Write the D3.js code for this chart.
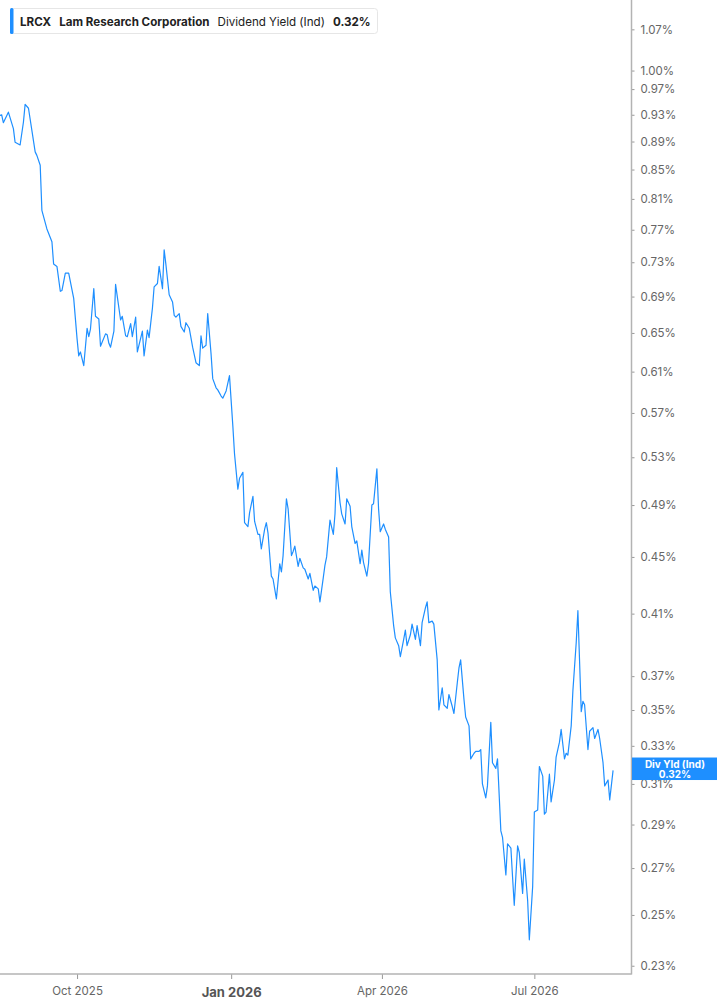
<!DOCTYPE html>
<html>
<head>
<meta charset="utf-8">
<script src="https://cdn.jsdelivr.net/npm/d3@7"></script>
<style>
  body { margin: 0; background: #fff; }
  svg { display: block; font-family: Inter, "Noto Sans", sans-serif; }
</style>
</head>
<body>
<svg id="chart" width="717" height="1005"></svg>
<script>
// dividend yield (%), one entry per date
var dates = [
  "2025-08-16","2025-08-17","2025-08-18","2025-08-21","2025-08-24","2025-08-25","2025-08-28","2025-08-30","2025-08-31",
  "2025-09-02","2025-09-06","2025-09-07","2025-09-09","2025-09-10","2025-09-13","2025-09-16","2025-09-17","2025-09-19",
  "2025-09-21","2025-09-22","2025-09-24","2025-09-26","2025-09-29",
  "2025-10-01","2025-10-02","2025-10-03","2025-10-05","2025-10-07","2025-10-08","2025-10-09","2025-10-11","2025-10-12",
  "2025-10-14","2025-10-15","2025-10-18","2025-10-19","2025-10-20","2025-10-21","2025-10-23","2025-10-24","2025-10-27",
  "2025-10-28","2025-10-30","2025-10-31",
  "2025-11-02","2025-11-03","2025-11-05","2025-11-06","2025-11-09","2025-11-10","2025-11-12","2025-11-13","2025-11-15",
  "2025-11-16","2025-11-18","2025-11-19","2025-11-21","2025-11-22","2025-11-23","2025-11-25","2025-11-27","2025-11-28",
  "2025-11-29",
  "2025-12-01","2025-12-02","2025-12-04","2025-12-05","2025-12-07","2025-12-09","2025-12-11","2025-12-13","2025-12-14",
  "2025-12-15","2025-12-17","2025-12-18","2025-12-20","2025-12-21","2025-12-23","2025-12-24","2025-12-26","2025-12-27",
  "2025-12-29","2025-12-31",
  "2026-01-02","2026-01-03","2026-01-05","2026-01-06","2026-01-08","2026-01-09","2026-01-11","2026-01-12","2026-01-14",
  "2026-01-15","2026-01-17","2026-01-18","2026-01-19","2026-01-21","2026-01-22","2026-01-23","2026-01-25","2026-01-26",
  "2026-01-28","2026-01-30","2026-01-31",
  "2026-02-01","2026-02-03","2026-02-04","2026-02-06","2026-02-07","2026-02-08","2026-02-10","2026-02-11","2026-02-13",
  "2026-02-14","2026-02-16","2026-02-17","2026-02-19","2026-02-20","2026-02-22","2026-02-23","2026-02-25","2026-02-26",
  "2026-02-27",
  "2026-03-01","2026-03-03","2026-03-04","2026-03-05","2026-03-07","2026-03-08","2026-03-10","2026-03-11","2026-03-13",
  "2026-03-14","2026-03-16","2026-03-17","2026-03-19","2026-03-20","2026-03-21","2026-03-23","2026-03-24","2026-03-26",
  "2026-03-27","2026-03-29","2026-03-30","2026-03-31",
  "2026-04-02","2026-04-03","2026-04-05","2026-04-06","2026-04-08","2026-04-09","2026-04-11","2026-04-12","2026-04-14",
  "2026-04-15","2026-04-16","2026-04-18","2026-04-19","2026-04-21","2026-04-22","2026-04-24","2026-04-25","2026-04-27",
  "2026-04-28","2026-04-29",
  "2026-05-01","2026-05-02","2026-05-04","2026-05-05","2026-05-07","2026-05-08","2026-05-10","2026-05-11","2026-05-13",
  "2026-05-14","2026-05-16","2026-05-17","2026-05-18","2026-05-20","2026-05-21","2026-05-23","2026-05-24","2026-05-26",
  "2026-05-27","2026-05-29","2026-05-30","2026-05-31",
  "2026-06-02","2026-06-03","2026-06-05","2026-06-06","2026-06-08","2026-06-09","2026-06-11","2026-06-12","2026-06-14",
  "2026-06-15","2026-06-17","2026-06-18","2026-06-19","2026-06-21","2026-06-22","2026-06-24","2026-06-25","2026-06-27",
  "2026-06-28","2026-06-30",
  "2026-07-01","2026-07-03","2026-07-04","2026-07-06","2026-07-07","2026-07-08","2026-07-10","2026-07-11","2026-07-13",
  "2026-07-14","2026-07-16","2026-07-17","2026-07-19","2026-07-20","2026-07-21","2026-07-23","2026-07-24","2026-07-26",
  "2026-07-27","2026-07-29","2026-07-30","2026-07-31",
  "2026-08-02","2026-08-03","2026-08-05","2026-08-06","2026-08-08","2026-08-09","2026-08-11","2026-08-12","2026-08-14",
  "2026-08-15","2026-08-17"
];
var yields = [
  0.929,0.930,0.918,0.934,0.909,0.889,0.885,0.919,0.946,
  0.940,0.875,0.870,0.856,0.795,0.771,0.755,0.728,0.725,
  0.696,0.697,0.717,0.717,0.688,
  0.644,0.626,0.630,0.616,0.655,0.646,0.654,0.699,0.668,
  0.665,0.636,0.649,0.648,0.639,0.635,0.652,0.704,0.664,
  0.668,0.647,0.646,
  0.660,0.646,0.667,0.630,0.652,0.626,0.653,0.645,0.677,
  0.701,0.705,0.725,0.699,0.745,0.728,0.692,0.684,0.669,
  0.667,
  0.671,0.657,0.651,0.661,0.655,0.635,0.619,0.616,0.647,
  0.634,0.637,0.671,0.628,0.603,0.594,0.592,0.586,0.584,
  0.591,0.606,
  0.558,0.533,0.503,0.512,0.517,0.476,0.473,0.484,0.497,
  0.477,0.467,0.467,0.456,0.471,0.476,0.468,0.436,0.434,
  0.420,0.445,0.439,
  0.451,0.495,0.487,0.451,0.454,0.458,0.443,0.449,0.442,
  0.441,0.434,0.438,0.426,0.429,0.427,0.418,0.435,0.444,
  0.450,
  0.478,0.467,0.483,0.521,0.492,0.483,0.475,0.495,0.489,
  0.473,0.460,0.462,0.445,0.455,0.446,0.436,0.445,0.490,
  0.491,0.520,0.487,0.469,
  0.475,0.471,0.465,0.425,0.402,0.394,0.389,0.382,0.393,
  0.399,0.389,0.396,0.403,0.393,0.402,0.389,0.404,0.414,
  0.418,0.404,
  0.405,0.403,0.380,0.350,0.363,0.353,0.351,0.359,0.352,
  0.348,0.366,0.375,0.380,0.356,0.346,0.341,0.323,0.326,
  0.327,0.327,0.328,0.310,
  0.303,0.309,0.343,0.321,0.318,0.323,0.287,0.284,0.267,
  0.281,0.279,0.266,0.254,0.280,0.277,0.259,0.274,0.256,
  0.240,0.262,
  0.296,0.297,0.319,0.314,0.295,0.296,0.315,0.301,0.312,
  0.324,0.332,0.339,0.323,0.326,0.325,0.341,0.361,0.391,
  0.412,0.349,0.355,0.353,
  0.328,0.338,0.340,0.334,0.339,0.334,0.321,0.309,0.312,
  0.302,0.317
];
var yTicks = [0.23,0.25,0.27,0.29,0.31,0.33,0.35,0.37,0.41,0.45,0.49,0.53,0.57,0.61,0.65,0.69,0.73,0.77,0.81,0.85,0.89,0.93,0.97,1.00,1.07];
var xTicks = ["2025-10-01","2026-01-01","2026-04-01","2026-07-01"];
var xTickLabels = ["Oct 2025","Jan 2026","Apr 2026","Jul 2026"];
var ticker = "LRCX";
var company = "Lam Research Corporation";
var metric = "Dividend Yield (Ind)";
var lastValue = "0.32%";

var parse = d3.timeParse("%Y-%m-%d");
var data = dates.map(function (d, i) { return { date: parse(d), value: yields[i] }; });

var plotRight = 631.5, plotBottom = 974;
var blue = "#1e8fff";

var svg = d3.select("#chart");

var x = d3.scaleTime()
          .domain([parse("2025-08-16"), parse("2026-08-28")])
          .range([0, plotRight]);
var y = d3.scaleLog()
          .domain([0.2269, 1.1228])
          .range([plotBottom, 0]);

svg.append("clipPath").attr("id", "clip")
   .append("rect").attr("x", 0).attr("y", 0).attr("width", plotRight).attr("height", plotBottom);

var line = d3.line()
             .x(function (d) { return x(d.date); })
             .y(function (d) { return y(d.value); });

svg.append("path")
   .datum(data)
   .attr("clip-path", "url(#clip)")
   .attr("d", line)
   .attr("fill", "none")
   .attr("stroke", blue)
   .attr("stroke-width", 1.2)
   .attr("stroke-linejoin", "round");

// right axis
var yAxis = d3.axisRight(y)
              .tickValues(yTicks)
              .tickSize(3)
              .tickPadding(6)
              .tickFormat(function (d) { return d.toFixed(2) + "%"; });
var gy = svg.append("g").attr("transform", "translate(" + plotRight + ",0)").call(yAxis);
gy.select(".domain").remove();
gy.selectAll(".tick line").attr("stroke", "#999");
gy.selectAll(".tick text").attr("fill", "#666").style("font-size", "11.5px").style("font-family", "Inter, sans-serif");
svg.append("line").attr("x1", plotRight).attr("x2", plotRight).attr("y1", 0).attr("y2", plotBottom + 0.5)
   .attr("stroke", "#b3b3b3").attr("stroke-width", 1.5);

// bottom axis
var xAxis = d3.axisBottom(x)
              .tickValues(xTicks.map(parse))
              .tickSize(5)
              .tickPadding(6)
              .tickFormat(function (d, i) { return xTickLabels[i]; });
var gx = svg.append("g").attr("transform", "translate(0," + plotBottom + ")").call(xAxis);
gx.select(".domain").remove();
gx.selectAll(".tick line").attr("stroke", "#999");
gx.selectAll(".tick text").style("font-family", "Inter, sans-serif")
  .attr("dy", "0.9em")
  .style("font-weight", function (d, i) { return i === 1 ? "bold" : "normal"; })
  .style("font-size", function (d, i) { return i === 1 ? "13px" : "11.5px"; })
  .attr("fill", function (d, i) { return i === 1 ? "#555" : "#666"; });
svg.append("line").attr("x1", 0).attr("x2", plotRight).attr("y1", plotBottom).attr("y2", plotBottom)
   .attr("stroke", "#b3b3b3").attr("stroke-width", 1.5);

// last value badge, drawn over the axis labels as in the source
var lastY = y(yields[yields.length - 1]);
var badge = svg.append("g").attr("transform", "translate(" + (plotRight + 0.5) + "," + (lastY - 12.8) + ")");
badge.append("rect").attr("width", 717 - plotRight).attr("height", 22.5).attr("fill", blue);
badge.append("text").attr("x", 43).attr("y", 10.3).attr("text-anchor", "middle")
     .attr("fill", "#fff").style("font-size", "10px").style("font-weight", "bold").text("Div Yld (Ind)");
badge.append("text").attr("x", 43).attr("y", 20.6).attr("text-anchor", "middle")
     .attr("fill", "#fff").style("font-size", "10px").style("font-weight", "bold").text(lastValue);

// legend
var legend = svg.append("g").attr("transform", "translate(10,8)");
legend.append("rect").attr("x", 0.5).attr("y", 0.5).attr("width", 367).attr("height", 25).attr("rx", 3)
      .attr("fill", "#fff").attr("stroke", "#e6e6e6");
legend.append("rect").attr("x", 0).attr("y", 0).attr("width", 3.5).attr("height", 26).attr("rx", 1.5).attr("fill", blue);
var lt = legend.append("text").attr("x", 10).attr("y", 17.5).attr("fill", "#222").style("font-size", "11.6px");
lt.append("tspan").style("font-weight", "bold").text(ticker);
lt.append("tspan").attr("dx", 8).style("font-weight", "bold").text(company);
lt.append("tspan").attr("dx", 8).style("font-weight", "normal").text(metric);
lt.append("tspan").attr("dx", 8).style("font-weight", "bold").text(lastValue);
</script>
</body>
</html>
